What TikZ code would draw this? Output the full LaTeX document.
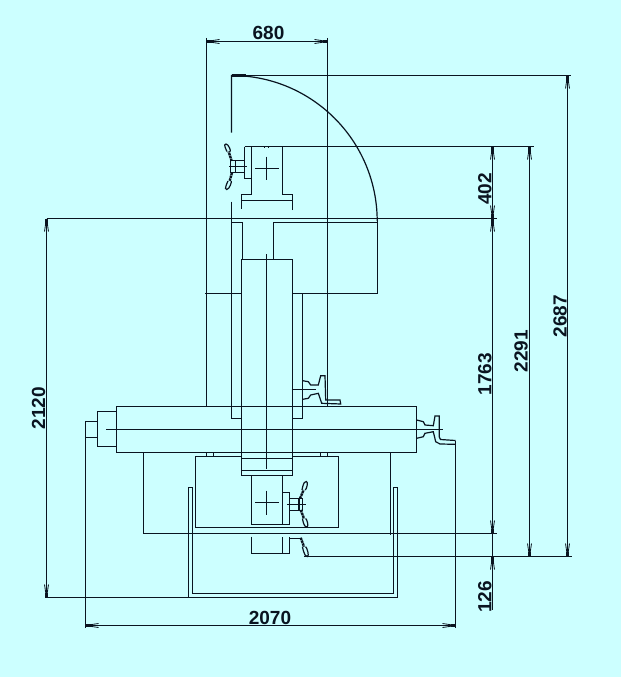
\documentclass[tikz,border=0pt]{standalone}
\usepackage{fontspec}
\setmainfont{Liberation Sans}
\definecolor{bgc}{HTML}{CCFFFF}
\definecolor{inkc}{HTML}{0A1420}
\tikzset{
  ln/.style={draw=inkc,line width=1.2pt,line join=miter},
  thin ln/.style={draw=inkc,line width=0.8pt},
  core/.style={draw=inkc,line width=2.2pt},
  wing/.style={draw=inkc,line width=2.4pt,dash pattern=on 2.4pt off 0.6pt},
  dimtext/.style={inkc,font=\fontsize{19}{19}\selectfont\bfseries,inner sep=0pt}
}
\newcommand{\tipmark}[2]{%
  \begin{scope}[shift={(#1)},rotate=#2]
    \draw[core] (0,0) -- (5,0);
    \draw[thin ln] (3,0.5) -- (13,2);
    \draw[thin ln] (3,-0.5) -- (13,-2);
  \end{scope}}
\newcommand{\wingnut}[3]{% inner end, outer-lobe start, lobe tip
  \draw[wing] (#1) -- (#2);
  \draw[ln] ($(#2)+(-1.6,0)$) .. controls ($(#3)+(-2.8,0)$) and ($(#3)+(-1,0)$) .. (#3)
     .. controls ($(#3)+(2.6,0)$) and ($(#2)+(2.6,0)$) .. ($(#2)+(1.6,0)$);}
\usetikzlibrary{calc}
\begin{document}
\begin{tikzpicture}[x=1pt,y=-1pt]
\path[use as bounding box,fill=bgc] (0,0) rectangle (621,677);

% --- extension and dimension lines
\draw[ln] (206.5,38) -- (206.5,406.5);
\draw[ln] (327.5,38) -- (327.5,406.5);
\draw[ln] (206.5,41.5) -- (327.5,41.5);
\draw[ln] (231.5,75.5) -- (571,75.5);
\draw[ln] (244.5,146.5) -- (533.5,146.5);
\draw[ln] (46.5,218.5) -- (496.5,218.5);
\draw[ln] (46.5,218.5) -- (46.5,597.5);
\draw[ln] (492.5,146.5) -- (492.5,609.5);
\draw[ln] (529.5,146.5) -- (529.5,556.5);
\draw[ln] (567.5,75.5) -- (567.5,556.5);
\draw[ln] (143.5,533.5) -- (496.5,533.5);
\draw[ln] (304,556.5) -- (571.5,556.5);
\draw[ln] (46.5,597.5) -- (397.5,597.5);
\draw[ln] (85.5,625.5) -- (455.5,625.5);
\draw[ln] (85.5,421.5) -- (85.5,628);
\draw[ln] (455.5,440.5) -- (455.5,628);

% --- arrow marks
\tipmark{206.5,41.5}{0}
\tipmark{327.5,41.5}{180}
\tipmark{85.5,625.5}{0}
\tipmark{455.5,625.5}{180}
\tipmark{46.5,218.5}{270}
\tipmark{46.5,597.5}{90}
\tipmark{567.5,75.5}{270}
\tipmark{567.5,556.5}{90}
\tipmark{529.5,146.5}{270}
\tipmark{529.5,556.5}{90}
\tipmark{492.5,146.5}{270}
\tipmark{492.5,218.5}{90}
\tipmark{492.5,218.5}{270}
\tipmark{492.5,533.5}{90}
\tipmark{492.5,556.5}{270}

% --- swing arc and upper frame
\draw[ln] (231.5,132.7) -- (231.5,75.5) arc[start angle=90,end angle=0,x radius=145.7,y radius=-145.7];
\draw[core] (231.5,75.5) -- (246,75.5);
\draw[ln] (377.2,221) -- (377.2,293.5) -- (292.5,293.5);
\draw[ln] (205,293.5) -- (241.5,293.5);
\draw[ln] (231.5,201.7) -- (231.5,418.5) -- (241.5,418.5);
\draw[ln] (231.5,222.5) -- (242.5,222.5) -- (242.5,259.5);
\draw[ln] (377.2,222.5) -- (273.5,222.5) -- (273.5,259.5);
\draw[ln] (302.5,293.5) -- (302.5,418.5) -- (292.5,418.5);

% --- column
\draw[ln] (241.5,259.5) rectangle (292.5,475.5);
\draw[ln] (266.5,254) -- (266.5,468.7);
\draw[ln] (241.5,458.5) -- (292.5,458.5);
\draw[ln] (241.5,470.5) -- (292.5,470.5);

% --- table
\draw[ln] (116.5,406.5) rectangle (416.5,452.5);
\draw[ln] (97.5,411.5) rectangle (116.5,446.5);
\draw[ln] (85.5,421.5) rectangle (97.5,437.5);
\draw[ln] (106,429.5) -- (442.7,429.5);
\draw[ln] (143.5,452.5) -- (143.5,533.5);
\draw[ln] (390.5,452.5) -- (390.5,534.5);
\draw[ln] (206.5,452.5) -- (206.5,456.5);
\draw[ln] (213.5,452.5) -- (213.5,456.5);
\draw[ln] (320.5,452.5) -- (320.5,456.5);
\draw[ln] (327.5,452.5) -- (327.5,456.5);

% --- saddle
\draw[ln] (241.5,456.5) -- (195.5,456.5) -- (195.5,527.5) -- (338.5,527.5) -- (338.5,456.5) -- (292.5,456.5);

% --- lower clamp
\draw[ln] (251.5,475.5) -- (251.5,524.5) -- (289.5,524.5) -- (289.5,492.5) -- (282.5,492.5);
\draw[ln] (282.5,475.5) -- (282.5,524.5);
\draw[ln] (255,502.5) -- (278.7,502.5);
\draw[ln] (266.5,490.7) -- (266.5,514.5);
\draw[ln] (289.5,498.5) -- (302.7,498.5) -- (302.7,510.5) -- (289.5,510.5);
\draw[ln] (299,498.5) -- (299,510.5);
\draw[ln] (287,504.5) -- (305.7,504.5);
\wingnut{300,498.5}{303.6,490}{306.3,481.5}
\wingnut{300.7,510}{304,518.5}{306.8,527}

% --- part below
\draw[ln] (251.5,536.7) -- (251.5,553.5) -- (289.5,553.5) -- (289.5,537);
\draw[ln] (282.5,537) -- (282.5,553.5);
\draw[ln] (289.5,538.5) -- (300.5,538.5);
\wingnut{300.7,537.7}{304,546.7}{307.3,556.5}

% --- tray
\draw[ln] (188.5,597.5) -- (188.5,487.5) -- (192.5,487.5) -- (192.5,593.5) -- (393.5,593.5) -- (393.5,487.5) -- (397.5,487.5) -- (397.5,597.5);

% --- upper clamp
\draw[ln] (251.5,146.5) -- (251.5,194.5) -- (241.5,194.5) -- (241.5,208.7);
\draw[ln] (241.5,200.5) -- (292.5,200.5);
\draw[ln] (292.5,210) -- (292.5,194.5) -- (282.5,194.5) -- (282.5,146.5);
\draw[ln] (244.5,146.5) -- (244.5,178.5) -- (251.5,178.5);
\draw[ln] (255,168.5) -- (279,168.5);
\draw[ln] (266.5,156.7) -- (266.5,180);
\draw[ln] (264.2,146.5) -- (264.2,148.2);
\draw[ln] (268.4,146.5) -- (268.4,148.2);
\draw[ln] (244.5,160.5) -- (230.7,160.5) -- (230.7,172.5) -- (244.5,172.5);
\draw[ln] (235.5,160.5) -- (235.5,172.5);
\draw[ln] (229.3,166.5) -- (247,166.5);
\wingnut{231.7,161}{228.6,151.5}{226,144}
\wingnut{232,172.7}{229.6,181}{226.8,189.5}

% --- handwheel on the table
\draw[ln] (416.7,420) -- (423.3,421.7) -- (425,425) -- (433.3,425.7) -- (435,416) -- (439.3,416) -- (439.3,437) -- (440.5,439.5) -- (455.5,440.5);
\draw[ln] (416.7,438.3) -- (423.3,436.7) -- (425,433.3) -- (433.3,431.7) -- (435.7,441.7) -- (440,444) -- (455.5,444.3);

% --- handwheel on the column
\draw[ln] (302.7,380.7) -- (308.3,381.7) -- (310.7,385) -- (318.3,385) -- (320.7,375.7) -- (325,375.7) -- (325.7,400) -- (340,400) -- (340.7,404) -- (321.7,403.3) -- (318.3,393.3) -- (310.7,395) -- (308.3,398.3) -- (302.7,399.3);
\draw[ln] (291.7,389.5) -- (315.5,389.5);

% --- dimension texts
\node[dimtext] (d680) at (268.5,33) {680};
\node[dimtext] (d2070) at (270,618) {2070};
\node[dimtext,rotate=90] (d2120) at (38.5,408) {2120};
\node[dimtext,rotate=90] (d402) at (484.8,189) {402};
\node[dimtext,rotate=90] (d1763) at (484.8,374) {1763};
\node[dimtext,rotate=90] (d126) at (484.8,597) {126};
\node[dimtext,rotate=90] (d2291) at (521,351) {2291};
\node[dimtext,rotate=90] (d2687) at (560,316) {2687};
\end{tikzpicture}
\end{document}
